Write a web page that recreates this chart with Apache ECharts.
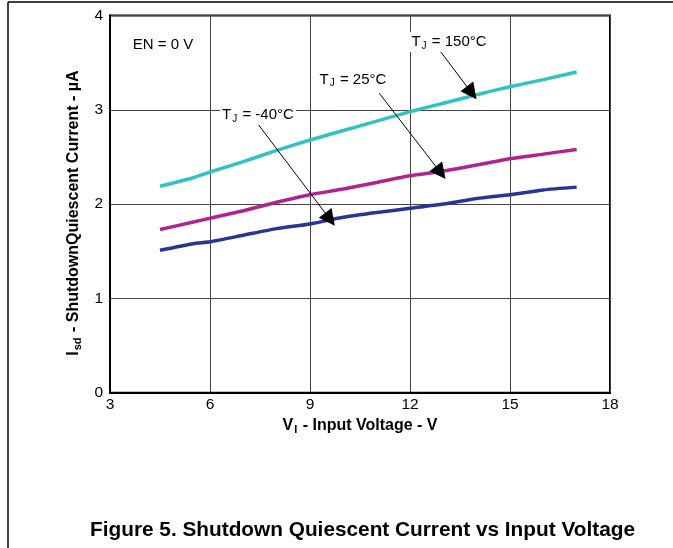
<!DOCTYPE html>
<html>
<head>
<meta charset="utf-8">
<script src="https://cdn.jsdelivr.net/npm/echarts@6/dist/echarts.min.js"></script>
<style>
html,body{margin:0;padding:0;background:#fff;}
#chart{width:673px;height:548px;}
</style>
</head>
<body>
<div id="chart"></div>
<script>
// Data
const xTicks = [3, 6, 9, 12, 15, 18];
const yTicks = [0, 1, 2, 3, 4];
const voltage = [4.5, 5.5, 6, 7, 8, 9, 10, 11, 12, 13, 14, 15, 16, 17];
const current150 = [2.19, 2.28, 2.34, 2.45, 2.57, 2.68, 2.78, 2.88, 2.98, 3.07, 3.16, 3.245, 3.32, 3.40];
const current25  = [1.73, 1.81, 1.85, 1.93, 2.02, 2.10, 2.16, 2.23, 2.30, 2.35, 2.415, 2.48, 2.53, 2.58];
const currentM40 = [1.51, 1.58, 1.60, 1.67, 1.74, 1.79, 1.86, 1.91, 1.955, 2.00, 2.06, 2.10, 2.15, 2.18];
// Annotation anchors (data coordinates)
const labelNames = ['150°C', '25°C', '-40°C'];
const labelPos = [[13.17, 3.72], [10.29, 3.32], [7.44, 2.945]];
const arrowFrom = [[12.88, 3.634], [11.08, 3.175], [7.42, 2.857]];
const arrowTo = [[13.85, 3.18], [12.92, 2.333], [9.6, 1.839]];
const condText = 'EN = 0 V';
const condPos = [4.59, 3.686];

const FONT = '"Liberation Sans", Arial, sans-serif';
const chart = echarts.init(document.getElementById('chart'), null, {renderer: 'canvas'});

function pairs(xs, ys) { return xs.map((x, i) => [x, ys[i]]); }

const markPoints = labelNames.map((n, i) => ({
  coord: labelPos[i],
  symbol: 'rect', symbolSize: 0,
  label: {
    show: true, position: 'inside',
    formatter: '{t|T}{s|J}{t| = ' + n + '}',
    backgroundColor: '#fff', padding: [1, 2, 1, 2],
    rich: {
      t: {fontFamily: FONT, fontSize: 15, color: '#000'},
      s: {fontFamily: FONT, fontSize: 10, color: '#000', padding: [8, 1, 0, 1]}
    }
  }
}));
markPoints.push({
  coord: condPos, symbol: 'rect', symbolSize: 0,
  label: {show: true, position: 'inside', formatter: condText, fontFamily: FONT, fontSize: 15, color: '#000'}
});

const markLines = arrowFrom.map((f, i) => [{coord: f}, {coord: arrowTo[i]}]);

chart.setOption({
  animation: false,
  backgroundColor: '#fff',
  grid: {left: 110, right: 63, top: 15.5, bottom: 155.3, show: true, borderColor: '#000', borderWidth: 2, backgroundColor: 'transparent'},
  title: {
    text: 'Figure 5. Shutdown Quiescent Current vs Input Voltage',
    left: 85, top: 515,
    textStyle: {fontFamily: FONT, fontSize: 20.8, fontWeight: 'bold', color: '#000'}
  },
  xAxis: {
    type: 'value', min: xTicks[0], max: xTicks[xTicks.length - 1], interval: 3,
    axisLine: {show: true, lineStyle: {color: '#000', width: 2}},
    axisTick: {show: false},
    axisLabel: {fontFamily: FONT, fontSize: 15.5, color: '#000', margin: 4},
    splitLine: {show: true, lineStyle: {color: '#444', width: 1}},
    name: '{b|V}{bs|I}{b| - Input Voltage - V}',
    nameLocation: 'middle', nameGap: 21,
    nameTextStyle: {
      rich: {
        b: {fontFamily: FONT, fontSize: 16, fontWeight: 'bold', color: '#000'},
        bs: {fontFamily: FONT, fontSize: 11, fontWeight: 'bold', color: '#000', padding: [8, 1, 0, 1]}
      }
    }
  },
  yAxis: {
    type: 'value', min: yTicks[0], max: yTicks[yTicks.length - 1], interval: 1,
    axisLine: {show: true, lineStyle: {color: '#000', width: 2}},
    axisTick: {show: false},
    axisLabel: {fontFamily: FONT, fontSize: 15.5, color: '#000', margin: 7},
    splitLine: {show: true, lineStyle: {color: '#444', width: 1}},
    name: '{b|I}{bs|sd}{b| - ShutdownQuiescent Current - µA}',
    nameLocation: 'middle', nameGap: 20, nameRotate: 90,
    nameTextStyle: {
      padding: [0, 18, 0, 0],
      rich: {
        b: {fontFamily: FONT, fontSize: 16, fontWeight: 'bold', color: '#000'},
        bs: {fontFamily: FONT, fontSize: 11, fontWeight: 'bold', color: '#000', padding: [8, 1, 0, 1]}
      }
    }
  },
  graphic: [
    {type: 'line', shape: {x1: 8, y1: 2, x2: 673, y2: 2}, style: {stroke: '#000', lineWidth: 1.5}, silent: true},
    {type: 'line', shape: {x1: 8, y1: 2, x2: 8, y2: 548}, style: {stroke: '#000', lineWidth: 1.5}, silent: true}
  ],
  series: [
    {name: 'TJ = 150°C', type: 'line', data: pairs(voltage, current150), showSymbol: false, smooth: 0.2,
     lineStyle: {color: '#33c3be', width: 3.5}},
    {name: 'TJ = 25°C', type: 'line', data: pairs(voltage, current25), showSymbol: false, smooth: 0.2,
     lineStyle: {color: '#b0248e', width: 3.5}},
    {name: 'TJ = -40°C', type: 'line', data: pairs(voltage, currentM40), showSymbol: false, smooth: 0.2,
     lineStyle: {color: '#283593', width: 3.5}},
    {name: 'annotations', type: 'line', data: [], silent: true, z: 5,
     markLine: {silent: true, symbol: ['none', 'triangle'], symbolSize: 16, animation: false,
       lineStyle: {color: '#000', width: 1, type: 'solid'}, label: {show: false}, emphasis: {disabled: true},
       itemStyle: {color: '#000'},
       data: markLines},
     markPoint: {silent: true, animation: false, data: markPoints}}
  ]
});
</script>
</body>
</html>
